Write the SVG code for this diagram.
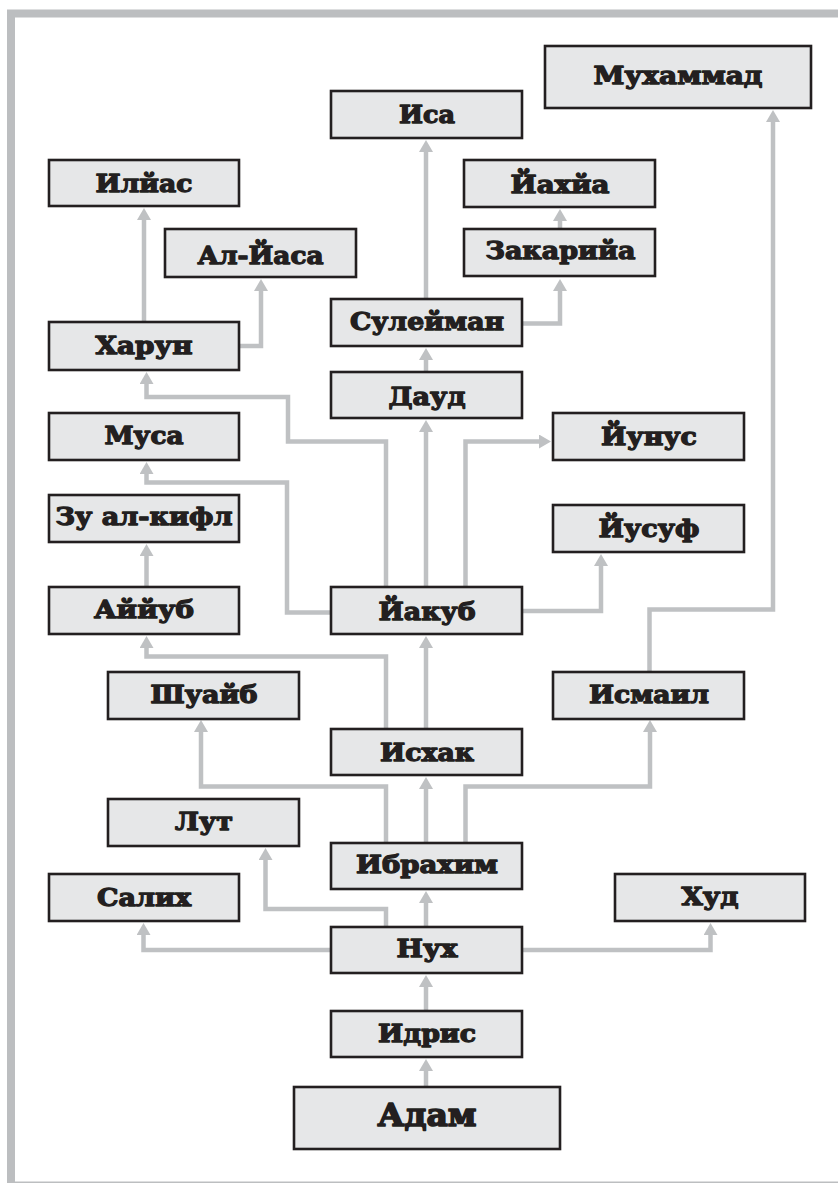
<svg xmlns="http://www.w3.org/2000/svg" width="838" height="1183" viewBox="0 0 838 1183">
<style>
.frame{fill:none;stroke:#bcbec0;stroke-width:8}
.node rect{fill:#e6e7e8;stroke:#231f20;stroke-width:2.6}
.node text{font-family:"DejaVu Serif","Liberation Serif",serif;font-weight:bold;font-size:24px;fill:#231f20;stroke:#231f20;stroke-width:1.3;stroke-linejoin:round;text-anchor:middle}
.node text.big{font-size:31px;stroke-width:1.6}
.edges path{fill:none;stroke:#bfc1c3;stroke-width:4.5;marker-end:url(#arr)}
</style>
<defs>
<marker id="arr" markerUnits="userSpaceOnUse" viewBox="0 0 12 14" refX="0" refY="7" markerWidth="12" markerHeight="14" orient="auto">
<path d="M0,0 L12,7 L0,14 Z" fill="#bfc1c3"/>
</marker>
</defs>
<rect x="0" y="0" width="838" height="1183" fill="#ffffff"/>
<rect class="frame" x="11" y="13.5" width="840" height="1172"/>
<g class="edges">
<path d="M426,1087 V1071"/>
<path d="M426,1011 V987"/>
<path d="M426,927 V903"/>
<path d="M426,843 V789"/>
<path d="M426,729 V648"/>
<path d="M426,587 V432"/>
<path d="M426,371 V360"/>
<path d="M426,299 V152"/>
<path d="M522,323.5 H560 V291"/>
<path d="M560,229 V221"/>
<path d="M331,950 H143.5 V935"/>
<path d="M522,950 H710.5 V935"/>
<path d="M386,927 V909 H265.5 V860"/>
<path d="M386,843 V786.5 H201 V732"/>
<path d="M465.5,843 V786.5 H650 V732"/>
<path d="M386,729 V656.5 H146.5 V648"/>
<path d="M649.5,672 V609.5 H773 V122"/>
<path d="M522,611 H601 V566"/>
<path d="M465.5,587 V441.5 H539"/>
<path d="M331,612.5 H287 V482.5 H146.5 V474"/>
<path d="M386,587 V441.5 H288 V397 H146.5 V384"/>
<path d="M146.5,587 V556"/>
<path d="M144,322 V220"/>
<path d="M239,346 H261 V291"/>
</g>
<g id="n-muhammad" class="node"><rect x="545" y="46" width="266" height="62"/><text x="678" y="83.5" textLength="169" lengthAdjust="spacingAndGlyphs">Мухаммад</text></g>
<g id="n-isa" class="node"><rect x="331" y="91" width="191" height="47"/><text x="427" y="123" textLength="56" lengthAdjust="spacingAndGlyphs">Иса</text></g>
<g id="n-ilyas" class="node"><rect x="49" y="160" width="190" height="46"/><text x="144" y="192" textLength="97" lengthAdjust="spacingAndGlyphs">Илйас</text></g>
<g id="n-yahya" class="node"><rect x="464" y="160" width="191" height="47"/><text x="560" y="193" textLength="99" lengthAdjust="spacingAndGlyphs">Йахйа</text></g>
<g id="n-alyasa" class="node"><rect x="165" y="229" width="191" height="48"/><text x="260.5" y="264" textLength="126" lengthAdjust="spacingAndGlyphs">Ал-Йаса</text></g>
<g id="n-zakariya" class="node"><rect x="464" y="229" width="191" height="47"/><text x="560.5" y="259" textLength="150" lengthAdjust="spacingAndGlyphs">Закарийа</text></g>
<g id="n-suleiman" class="node"><rect x="331" y="299" width="191" height="47"/><text x="427" y="330" textLength="154" lengthAdjust="spacingAndGlyphs">Сулейман</text></g>
<g id="n-harun" class="node"><rect x="49" y="322" width="190" height="48"/><text x="144" y="354" textLength="97" lengthAdjust="spacingAndGlyphs">Харун</text></g>
<g id="n-daud" class="node"><rect x="331" y="372" width="191" height="46"/><text x="427" y="405" textLength="77" lengthAdjust="spacingAndGlyphs">Дауд</text></g>
<g id="n-musa" class="node"><rect x="49" y="413" width="190" height="47"/><text x="144" y="444" textLength="79" lengthAdjust="spacingAndGlyphs">Муса</text></g>
<g id="n-yunus" class="node"><rect x="553" y="413" width="191" height="47"/><text x="649" y="445" textLength="96" lengthAdjust="spacingAndGlyphs">Йунус</text></g>
<g id="n-zulkifl" class="node"><rect x="49" y="495" width="190" height="47"/><text x="144" y="525" textLength="177" lengthAdjust="spacingAndGlyphs">Зу ал-кифл</text></g>
<g id="n-yusuf" class="node"><rect x="553" y="505" width="191" height="47"/><text x="649" y="537" textLength="101" lengthAdjust="spacingAndGlyphs">Йусуф</text></g>
<g id="n-ayyub" class="node"><rect x="49" y="587" width="190" height="47"/><text x="144" y="618" textLength="100" lengthAdjust="spacingAndGlyphs">Аййуб</text></g>
<g id="n-yakub" class="node"><rect x="331" y="587" width="191" height="47"/><text x="427" y="620" textLength="97" lengthAdjust="spacingAndGlyphs">Йакуб</text></g>
<g id="n-shuayb" class="node"><rect x="108" y="672" width="191" height="47"/><text x="204" y="703" textLength="107" lengthAdjust="spacingAndGlyphs">Шуайб</text></g>
<g id="n-ismail" class="node"><rect x="553" y="672" width="191" height="47"/><text x="649" y="703" textLength="120" lengthAdjust="spacingAndGlyphs">Исмаил</text></g>
<g id="n-ishak" class="node"><rect x="331" y="729" width="191" height="46"/><text x="427" y="761" textLength="94" lengthAdjust="spacingAndGlyphs">Исхак</text></g>
<g id="n-lut" class="node"><rect x="108" y="799" width="191" height="47"/><text x="204" y="830" textLength="58" lengthAdjust="spacingAndGlyphs">Лут</text></g>
<g id="n-ibrahim" class="node"><rect x="331" y="843" width="191" height="46"/><text x="427" y="873" textLength="142" lengthAdjust="spacingAndGlyphs">Ибрахим</text></g>
<g id="n-salih" class="node"><rect x="49" y="874" width="190" height="47"/><text x="144" y="906" textLength="94" lengthAdjust="spacingAndGlyphs">Салих</text></g>
<g id="n-hud" class="node"><rect x="615" y="874" width="190" height="47"/><text x="710" y="905" textLength="57" lengthAdjust="spacingAndGlyphs">Худ</text></g>
<g id="n-nuh" class="node"><rect x="331" y="927" width="191" height="46"/><text x="427" y="957" textLength="61" lengthAdjust="spacingAndGlyphs">Нух</text></g>
<g id="n-idris" class="node"><rect x="331" y="1011" width="191" height="46"/><text x="427" y="1042" textLength="98" lengthAdjust="spacingAndGlyphs">Идрис</text></g>
<g id="n-adam" class="node"><rect x="294" y="1087" width="266" height="62"/><text class="big" x="427" y="1126" textLength="99" lengthAdjust="spacingAndGlyphs">Адам</text></g>
</svg>
